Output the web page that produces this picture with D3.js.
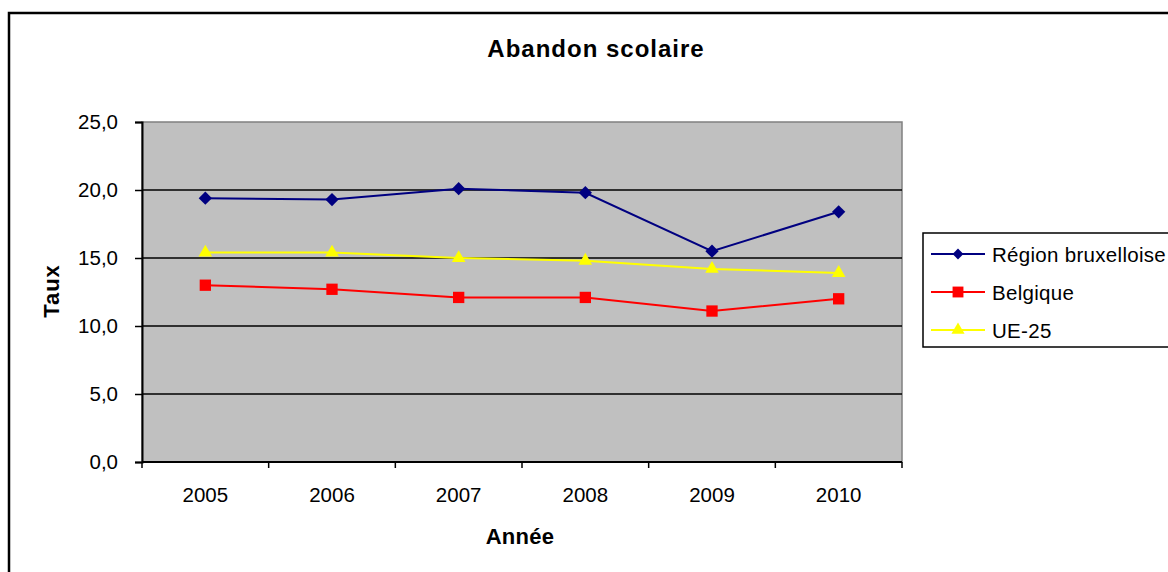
<!DOCTYPE html>
<html>
<head>
<meta charset="utf-8">
<script src="https://cdn.jsdelivr.net/npm/d3@7"></script>
<style>
  body { margin: 0; background: #fff; }
  svg { display: block; font-family: "Liberation Sans", Arial, sans-serif; }
</style>
</head>
<body>
<svg id="chart" width="1168" height="572"></svg>
<script>
const years = ['2005', '2006', '2007', '2008', '2009', '2010'];
const bruxelles = [19.4, 19.3, 20.1, 19.8, 15.5, 18.4];
const belgique = [13.0, 12.7, 12.1, 12.1, 11.1, 12.0];
const ue25 = [15.4, 15.4, 15.0, 14.8, 14.2, 13.9];
const yTicks = [0, 5, 10, 15, 20, 25];

// marker area for plot / legend; diamond = square turned 45 degrees
const series = [
  {name: 'Région bruxelloise', values: bruxelles, color: '#000080', marker: d3.symbolSquare, turn: 45, size: 88, legendSize: 58},
  {name: 'Belgique', values: belgique, color: '#ff0000', marker: d3.symbolSquare, turn: 0, size: 128, legendSize: 118},
  {name: 'UE-25', values: ue25, color: '#ffff00', marker: d3.symbolTriangle, turn: 0, size: 80, legendSize: 75}
];

const plot = {left: 142, top: 122, right: 902, bottom: 462};
const svg = d3.select('#chart');

// outer frame
svg.append('rect')
   .attr('x', 9).attr('y', 13)
   .attr('width', 1168).attr('height', 600)
   .attr('fill', 'none').attr('stroke', '#000').attr('stroke-width', 2.5);

let xScale = d3.scaleBand()
               .domain(years)
               .range([plot.left, plot.right]);
let yScale = d3.scaleLinear()
               .domain([0, 25])
               .range([plot.bottom, plot.top]);

svg.append('rect')
   .attr('x', plot.left).attr('y', plot.top)
   .attr('width', plot.right - plot.left).attr('height', plot.bottom - plot.top)
   .attr('fill', '#c0c0c0').attr('stroke', '#808080').attr('stroke-width', 1.5);

// gridlines
svg.append('g')
   .selectAll('line')
   .data(yTicks.filter(d => d > 0 && d < 25))
   .join('line')
   .attr('x1', plot.left).attr('x2', plot.right)
   .attr('y1', d => yScale(d)).attr('y2', d => yScale(d))
   .attr('stroke', '#000').attr('stroke-width', 1.5);

const fmt = d => d3.format('.1f')(d).replace('.', ',');

let yAxis = d3.axisLeft(yScale).tickValues(yTicks).tickFormat(fmt).tickSize(7).tickPadding(17);
svg.append('g')
   .attr('transform', `translate(${plot.left}, 0)`)
   .call(yAxis)
   .call(g => g.select('.domain').attr('stroke-width', 2))
   .call(g => g.selectAll('line').attr('stroke-width', 1.5))
   .call(g => g.selectAll('text').attr('font-size', 20.5).attr('fill', '#000')
               .attr('font-family', '"Liberation Sans", Arial, sans-serif'));

// x axis: ticks at category boundaries
svg.append('line')
   .attr('x1', plot.left).attr('x2', plot.right)
   .attr('y1', plot.bottom).attr('y2', plot.bottom)
   .attr('stroke', '#000').attr('stroke-width', 2);
const bounds = years.map(y => xScale(y)).concat([plot.right]);
svg.append('g')
   .selectAll('line')
   .data(bounds)
   .join('line')
   .attr('x1', d => d).attr('x2', d => d)
   .attr('y1', plot.bottom).attr('y2', plot.bottom + 6)
   .attr('stroke', '#000').attr('stroke-width', 1.5);
svg.append('g')
   .selectAll('text')
   .data(years)
   .join('text')
   .attr('x', d => xScale(d) + xScale.bandwidth() / 2)
   .attr('y', 502)
   .attr('text-anchor', 'middle')
   .attr('font-size', 20.5)
   .text(d => d);

// lines and markers
const cx = i => xScale(years[i]) + xScale.bandwidth() / 2;
series.forEach(s => {
  const line = d3.line().x((d, i) => cx(i)).y(d => yScale(d));
  svg.append('path')
     .datum(s.values)
     .attr('d', line)
     .attr('fill', 'none')
     .attr('stroke', s.color)
     .attr('stroke-width', 2);
  svg.append('g')
     .selectAll('path')
     .data(s.values)
     .join('path')
     .attr('transform', (d, i) => `translate(${cx(i)}, ${yScale(d)}) rotate(${s.turn})`)
     .attr('d', d3.symbol(s.marker, s.size))
     .attr('fill', s.color);
});

// titles
svg.append('text')
   .attr('x', 596).attr('y', 57)
   .attr('text-anchor', 'middle')
   .attr('font-size', 24).attr('font-weight', 'bold')
   .attr('letter-spacing', 1)
   .text('Abandon scolaire');
svg.append('text')
   .attr('x', 520).attr('y', 544)
   .attr('text-anchor', 'middle')
   .attr('font-size', 22).attr('font-weight', 'bold')
   .attr('letter-spacing', 0.3)
   .text('Année');
svg.append('text')
   .attr('transform', 'translate(59, 291) rotate(-90)')
   .attr('text-anchor', 'middle')
   .attr('font-size', 22).attr('font-weight', 'bold')
   .attr('letter-spacing', 1)
   .text('Taux');

// legend
const legend = svg.append('g');
legend.append('rect')
      .attr('x', 923).attr('y', 233)
      .attr('width', 260).attr('height', 114)
      .attr('fill', '#fff').attr('stroke', '#000').attr('stroke-width', 1.5);
const item = legend.selectAll('g.item')
                   .data(series)
                   .join('g')
                   .attr('class', 'item')
                   .attr('transform', (d, i) => `translate(0, ${254 + i * 38})`);
item.append('line')
    .attr('x1', 931).attr('x2', 985)
    .attr('stroke', d => d.color).attr('stroke-width', 2);
item.append('path')
    .attr('transform', d => `translate(958, 0) rotate(${d.turn})`)
    .attr('d', d => d3.symbol(d.marker, d.legendSize)())
    .attr('fill', d => d.color);
item.append('text')
    .attr('x', 992).attr('y', 8)
    .attr('font-size', 20.5)
    .attr('letter-spacing', 0.3)
    .text(d => d.name);
</script>
</body>
</html>
